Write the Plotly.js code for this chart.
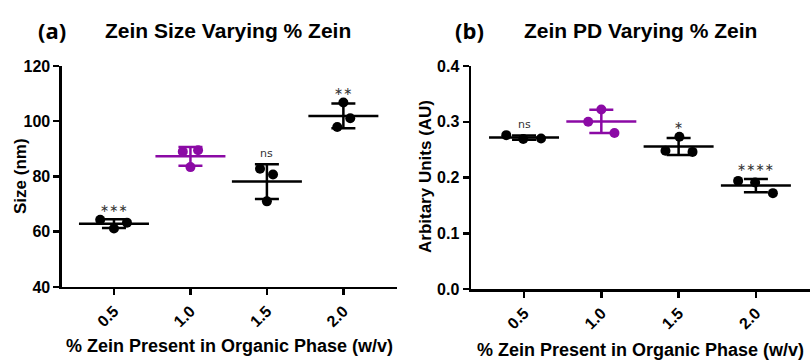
<!DOCTYPE html>
<html>
<head>
<meta charset="utf-8">
<script src="https://cdn.plot.ly/plotly-3.0.1.min.js"></script>
<style>html,body{margin:0;padding:0;background:#fff;}#chart{width:810px;height:360px;}</style>
</head>
<body>
<div id="chart"></div>
<script>
// ---- data ----
const categories = ['0.5', '1.0', '1.5', '2.0'];
// Panel (a): particle size (nm), three replicates per % zein
const sizeA = [
  [64.3, 61.2, 63.3],
  [89.0, 83.4, 89.5],
  [82.8, 71.0, 80.7],
  [97.9, 106.8, 101.1]
];
// Panel (b): polydispersity (AU), three replicates per % zein
const pdB = [
  [0.276, 0.269, 0.270],
  [0.300, 0.322, 0.280],
  [0.248, 0.273, 0.246],
  [0.194, 0.191, 0.172]
];
const sigA = ['***', '', 'ns', '**'];
const sigB = ['ns', '', '*', '****'];

// ---- styling (horizontal spread of replicate dots, in category units) ----
const jitterA = [[-0.18, 0, 0.17], [-0.1, 0, 0.1], [-0.09, 0, 0.08], [-0.08, 0, 0.09]];
const jitterB = [[-0.23, -0.01, 0.22], [-0.17, 0, 0.17], [-0.17, 0.01, 0.18], [-0.23, -0.01, 0.22]];
const groupColors = ['#000000', '#8B0AA5', '#000000', '#000000'];

function mean(a) { return a.reduce((s, v) => s + v, 0) / a.length; }
function sd(a) { const m = mean(a); return Math.sqrt(a.reduce((s, v) => s + (v - m) * (v - m), 0) / (a.length - 1)); }

function panelTraces(vals, jit, xa, ya) {
  const traces = [];
  const px = [], py = [], pc = [];
  vals.forEach((g, i) => g.forEach((v, j) => { px.push(i + jit[i][j]); py.push(v); pc.push(groupColors[i]); }));
  traces.push({
    type: 'scatter', mode: 'markers', x: px, y: py, xaxis: xa, yaxis: ya,
    marker: { size: 10, color: pc }, hoverinfo: 'y', showlegend: false
  });
  vals.forEach((g, i) => {
    traces.push({
      type: 'scatter', mode: 'markers', x: [i], y: [mean(g)], xaxis: xa, yaxis: ya,
      marker: { symbol: 'line-ew', size: 50, line: { width: 2.5, color: groupColors[i] } },
      error_y: { type: 'data', array: [sd(g)], visible: true, color: groupColors[i], thickness: 2.5, width: 12 },
      showlegend: false, hoverinfo: 'y'
    });
  });
  return traces;
}

function sigAnnots(vals, sig, xa, ya) {
  return vals.map((g, i) => ({
    text: sig[i].replace(/\*/g, '\u2217'), x: i, y: Math.max(mean(g) + sd(g), Math.max(...g)), xref: xa, yref: ya,
    showarrow: false, yanchor: 'middle', yshift: 11,
    font: { family: 'DejaVu Sans', size: 11, color: '#333' }
  })).filter(a => a.text !== '');
}

const data = [].concat(panelTraces(sizeA, jitterA, 'x', 'y'), panelTraces(pdB, jitterB, 'x2', 'y2'));

const tickFont = { family: 'Liberation Sans, Arial', size: 16, color: '#000', weight: 'bold' };
const xTitleFont = { family: 'Liberation Sans, Arial', size: 18, color: '#000', weight: 'bold' };
const yTitleFont = { family: 'Liberation Sans, Arial', size: 17, color: '#000', weight: 'bold' };
const xCommon = {
  tickmode: 'array', tickvals: [0, 1, 2, 3], ticktext: categories, tickangle: -45,
  showline: true, linewidth: 2.5, linecolor: '#000', ticks: 'outside', ticklen: 6, tickwidth: 2.5, tickcolor: '#000',
  showgrid: false, zeroline: false, tickfont: tickFont, fixedrange: true
};
const yCommon = {
  showline: true, linewidth: 2.5, linecolor: '#000', ticks: 'outside', ticklen: 6, tickwidth: 2.5, tickcolor: '#000',
  showgrid: false, zeroline: false, tickfont: tickFont, fixedrange: true, ticklabelstandoff: 0
};

const layout = {
  width: 810, height: 360,
  margin: { l: 0, r: 0, t: 0, b: 0 },
  paper_bgcolor: '#fff', plot_bgcolor: '#fff',
  showlegend: false,
  xaxis: Object.assign({}, xCommon, {
    domain: [0.0765, 0.490], range: [-0.68, 3.7], anchor: 'y',
    title: { text: '% Zein Present in Organic Phase (w/v)', font: xTitleFont, standoff: 10 }
  }),
  yaxis: Object.assign({}, yCommon, {
    domain: [0.2028, 0.8167], range: [40, 120], dtick: 20, anchor: 'x'
  }),
  xaxis2: Object.assign({}, xCommon, {
    domain: [0.5815, 1.0], range: [-0.686, 3.70], anchor: 'y2',
    title: { text: '% Zein Present in Organic Phase (w/v)', font: xTitleFont, standoff: 16 }
  }),
  yaxis2: Object.assign({}, yCommon, {
    domain: [0.197, 0.8167], range: [0, 0.4], dtick: 0.1, tickformat: '.1f', anchor: 'x2'
  }),
  annotations: [
    { text: '(a)', x: 52 / 810, y: 1 - 30 / 360, xref: 'paper', yref: 'paper', showarrow: false, xanchor: 'center', yanchor: 'middle',
      font: { family: 'Open Sans', size: 22, color: '#000', weight: 'bold' } },
    { text: 'Zein Size Varying % Zein', x: 228 / 810, y: 1 - 30 / 360, xref: 'paper', yref: 'paper', showarrow: false, xanchor: 'center', yanchor: 'middle',
      font: { family: 'Liberation Sans, Arial', size: 21, color: '#000', weight: 'bold' } },
    { text: '(b)', x: 469 / 810, y: 1 - 30 / 360, xref: 'paper', yref: 'paper', showarrow: false, xanchor: 'center', yanchor: 'middle',
      font: { family: 'Open Sans', size: 22, color: '#000', weight: 'bold' } },
    { text: 'Zein PD Varying % Zein', x: 640 / 810, y: 1 - 30 / 360, xref: 'paper', yref: 'paper', showarrow: false, xanchor: 'center', yanchor: 'middle',
      font: { family: 'Liberation Sans, Arial', size: 21, color: '#000', weight: 'bold' } },
    // y-axis titles
    { text: 'Size (nm)', x: 20 / 810, y: 1 - 176 / 360, xref: 'paper', yref: 'paper', showarrow: false, textangle: -90,
      xanchor: 'center', yanchor: 'middle', font: yTitleFont },
    { text: 'Arbitary Units (AU)', x: 425 / 810, y: 1 - 177 / 360, xref: 'paper', yref: 'paper', showarrow: false, textangle: -90,
      xanchor: 'center', yanchor: 'middle', font: yTitleFont }
  ].concat(sigAnnots(sizeA, sigA, 'x', 'y'), sigAnnots(pdB, sigB, 'x2', 'y2'))
};

Plotly.newPlot('chart', data, layout, { displayModeBar: false, staticPlot: true });
</script>
</body>
</html>
